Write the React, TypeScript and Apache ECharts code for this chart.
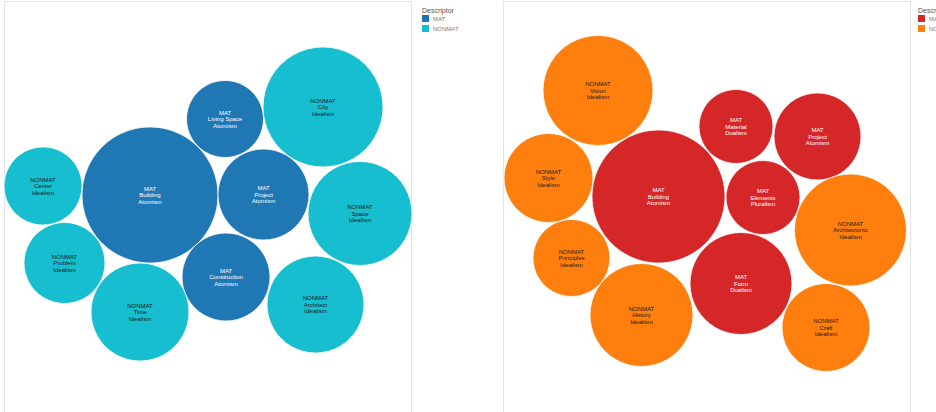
import React, { useEffect, useRef } from "react";
import * as echarts from "echarts";

// Left panel bubbles (layout x, y and radius in panel units)
const leftNames = ["Building", "Living Space", "City", "Project", "Space", "Center", "Problem", "Time", "Construction", "Architect"];
const leftDescriptors = ["MAT", "MAT", "NONMAT", "MAT", "NONMAT", "NONMAT", "NONMAT", "NONMAT", "MAT", "NONMAT"];
const leftKinds = ["Atomism", "Atomism", "Idealism", "Atomism", "Idealism", "Idealism", "Idealism", "Idealism", "Atomism", "Idealism"];
const leftX = [146, 221, 319, 259.5, 356, 39, 60.5, 136, 222, 311.5];
const leftY = [193, 117, 105, 192.5, 211.5, 184, 261, 310, 275, 302.5];
const leftR = [68, 38.5, 60, 45.5, 52, 39, 40.5, 49, 44, 48.5];

// Right panel bubbles
const rightNames = ["Vision", "Style", "Building", "Principles", "History", "Material", "Project", "Elements", "Architectonic", "Form", "Craft"];
const rightDescriptors = ["NONMAT", "NONMAT", "MAT", "NONMAT", "NONMAT", "MAT", "MAT", "MAT", "NONMAT", "MAT", "NONMAT"];
const rightKinds = ["Idealism", "Idealism", "Atomism", "Idealism", "Idealism", "Dualism", "Atomism", "Pluralism", "Idealism", "Dualism", "Idealism"];
const rightX = [95, 45.5, 155.5, 68.5, 138.5, 233, 314.5, 260, 347.5, 238, 323];
const rightY = [88.5, 176, 194.5, 256, 313, 124.5, 134.5, 195.5, 228, 281.5, 325.5];
const rightR = [55, 44.5, 66.5, 38.5, 51.5, 37, 43.5, 37, 56, 51, 44];

const descriptorLabels = ["MAT", "NONMAT"];
const leftColors: Record<string, string> = { MAT: "#1f77b4", NONMAT: "#17becf" };
const rightColors: Record<string, string> = { MAT: "#d62728", NONMAT: "#ff7f0e" };
const textColors: Record<string, string> = { MAT: "#ffffff", NONMAT: "#1a1a1a" };

const FONT = "'Liberation Sans', Arial, sans-serif";

function buildSeries(
  panel: number,
  suffix: string,
  names: string[],
  descs: string[],
  kinds: string[],
  xs: number[],
  ys: number[],
  rs: number[],
  colors: Record<string, string>
) {
  return descriptorLabels.map((d) => {
    const items = names
      .map((n, i) => ({ n, i }))
      .filter(({ i }) => descs[i] === d)
      .map(({ n, i }) => ({ name: n, value: [xs[i], ys[i], rs[i]], kind: kinds[i] }));
    return {
      type: "custom",
      name: d + suffix,
      xAxisIndex: panel,
      yAxisIndex: panel,
      clip: false,
      itemStyle: { color: colors[d] },
      data: items.map((it) => it.value),
      renderItem: (params: any, api: any) => {
        const it = items[params.dataIndex];
        const c = api.coord([api.value(0), api.value(1)]);
        const s = api.size([api.value(2), api.value(2)]);
        const r = Math.abs(s[0]);
        return {
          type: "group",
          children: [
            {
              type: "circle",
              shape: { cx: c[0], cy: c[1], r },
              style: { fill: colors[d], stroke: "#ffffff", lineWidth: 0.8 },
            },
            {
              type: "text",
              x: c[0],
              y: c[1],
              style: {
                text: `${d}\n${it.name}\n${it.kind}`,
                fill: textColors[d],
                fontSize: 6,
                fontFamily: FONT,
                lineHeight: 6.5,
                align: "center",
                verticalAlign: "middle",
              },
            },
          ],
        };
      },
    };
  });
}

export default function App() {
  const ref = useRef<HTMLDivElement>(null);
  useEffect(() => {
    if (!ref.current) return;
    const chart = echarts.init(ref.current, undefined, { renderer: "svg" });
    const axisBase = { type: "value", show: false, splitLine: { show: false } };
    const border = "#e4e4e4";
    const option: any = {
      animation: false,
      backgroundColor: "#ffffff",
      title: [
        { text: "Descriptor", left: 417, top: 2, textStyle: { fontSize: 7, fontWeight: "normal", color: "#555", fontFamily: FONT } },
        { text: "Descriptor", left: 913, top: 2, textStyle: { fontSize: 7, fontWeight: "normal", color: "#555", fontFamily: FONT } },
      ],
      legend: [
        {
          left: 417, top: 10, orient: "vertical", icon: "rect", itemWidth: 7, itemHeight: 7, itemGap: 3,
          selectedMode: false,
          data: ["MAT", "NONMAT"],
          textStyle: { fontSize: 6, color: "#777", fontFamily: FONT, padding: [0, 0, 0, -1] },
        },
        {
          left: 913, top: 10, orient: "vertical", icon: "rect", itemWidth: 7, itemHeight: 7, itemGap: 3,
          selectedMode: false,
          data: ["MAT ", "NONMAT "],
          textStyle: { fontSize: 6, color: "#777", fontFamily: FONT, padding: [0, 0, 0, -1] },
        },
      ],
      graphic: [
        { type: "polyline", silent: true, shape: { points: [[4.5, 420], [4.5, 1.5], [411.5, 1.5], [411.5, 420]] }, style: { stroke: border, fill: null, lineWidth: 1 } },
        { type: "polyline", silent: true, shape: { points: [[503.5, 420], [503.5, 1.5], [910.5, 1.5], [910.5, 420]] }, style: { stroke: border, fill: null, lineWidth: 1 } },
      ],
      grid: [
        { left: 4, top: 2, width: 407, height: 410, show: false },
        { left: 503, top: 2, width: 407, height: 410, show: false },
      ],
      xAxis: [
        { ...axisBase, gridIndex: 0, min: 0, max: 407 },
        { ...axisBase, gridIndex: 1, min: 0, max: 407 },
      ],
      yAxis: [
        { ...axisBase, gridIndex: 0, min: 0, max: 410, inverse: true },
        { ...axisBase, gridIndex: 1, min: 0, max: 410, inverse: true },
      ],
      series: [
        ...buildSeries(0, "", leftNames, leftDescriptors, leftKinds, leftX, leftY, leftR, leftColors),
        ...buildSeries(1, " ", rightNames, rightDescriptors, rightKinds, rightX, rightY, rightR, rightColors),
      ],
    };
    chart.setOption(option);
    return () => chart.dispose();
  }, []);
  return (
    <div
      ref={ref}
      style={{ position: "absolute", left: 0, top: 0, width: 936, height: 412 }}
    />
  );
}
